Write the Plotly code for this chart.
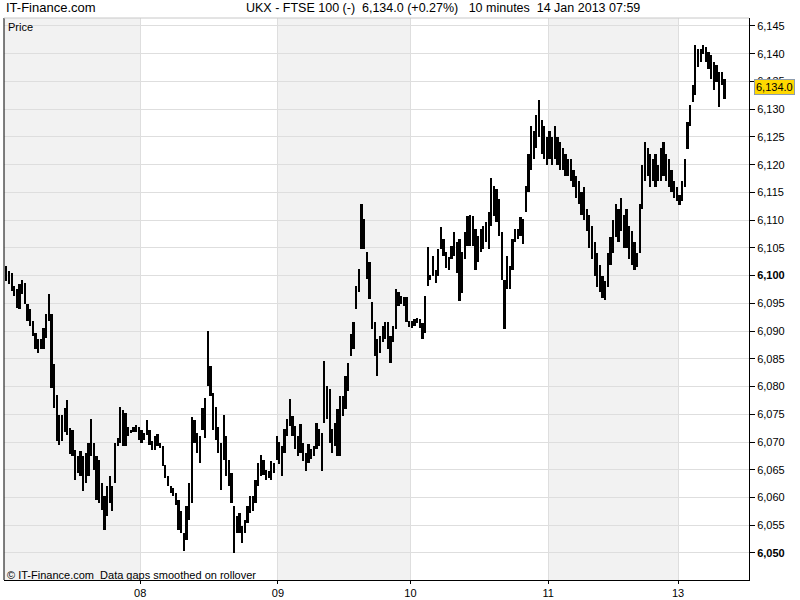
import plotly.graph_objects as go

# 10-minute bars, high / low per bar, one list per trading day
high_07 = [6101.7, 6100.8, 6100.5, 6098.1, 6097.5, 6098.4, 6099.3, 6098.7, 6094.8, 6093.9,
           6091.8, 6089.7, 6088.5, 6088.5, 6090.6, 6093.0, 6096.7, 6093.0, 6084.0, 6078.5,
           6074.9, 6074.9, 6076.1, 6077.6, 6072.5, 6072.2, 6068.6, 6067.4, 6068.3, 6067.4,
           6068.0, 6069.8, 6074.2, 6069.8, 6067.4, 6066.8, 6062.6, 6060.2, 6062.0, 6063.8,
           6062.0, 6069.8, 6070.7, 6076.4, 6075.8, 6075.2, 6072.8, 6072.2, 6072.8, 6073.1,
           6072.8]
low_07 = [6099.0, 6098.4, 6097.2, 6096.3, 6094.2, 6093.9, 6096.6, 6094.8, 6091.8, 6090.9,
          6089.1, 6086.7, 6086.1, 6086.7, 6086.7, 6088.8, 6091.8, 6079.7, 6076.1, 6070.1,
          6069.5, 6070.1, 6071.9, 6071.3, 6067.8, 6067.4, 6063.2, 6064.4, 6063.8, 6061.1,
          6062.6, 6063.8, 6067.4, 6065.0, 6059.6, 6059.0, 6057.8, 6054.2, 6056.6, 6059.0,
          6057.5, 6062.6, 6069.2, 6069.8, 6069.2, 6069.2, 6071.0, 6071.6, 6071.9, 6071.9,
          6070.4]

high_08 = [6072.2, 6071.6, 6074.0, 6072.2, 6070.1, 6071.0, 6071.5, 6069.8, 6069.2, 6065.9,
           6063.8, 6062.0, 6061.7, 6060.8, 6059.6, 6057.5, 6053.6, 6058.4, 6062.6, 6074.6,
           6074.0, 6071.6, 6071.0, 6076.1, 6078.0, 6090.0, 6083.7, 6078.9, 6076.4, 6072.8,
           6069.8, 6074.8, 6071.0, 6066.8, 6064.4, 6058.4, 6056.6, 6057.2, 6054.8, 6056.0,
           6058.4, 6060.2, 6060.2, 6063.2, 6066.2, 6067.7, 6066.8, 6065.0, 6064.7, 6066.5,
           6066.2, 6071.0]
low_08 = [6069.8, 6070.4, 6071.3, 6069.5, 6068.6, 6068.6, 6069.2, 6068.9, 6065.6, 6063.5,
          6062.0, 6060.8, 6060.2, 6058.7, 6054.2, 6053.6, 6050.4, 6052.4, 6056.0, 6059.0,
          6069.8, 6068.0, 6066.2, 6072.2, 6070.7, 6080.1, 6078.3, 6072.2, 6070.4, 6068.0,
          6061.4, 6066.8, 6063.8, 6062.0, 6059.0, 6050.0, 6053.6, 6053.6, 6051.8, 6053.6,
          6055.4, 6057.2, 6057.5, 6059.0, 6062.0, 6063.8, 6064.1, 6063.2, 6063.5, 6063.2,
          6064.4, 6066.8]

high_09 = [6070.0, 6069.3, 6072.3, 6074.1, 6077.7, 6074.7, 6072.9, 6071.1, 6073.2, 6069.9,
           6068.1, 6069.6, 6068.7, 6069.3, 6073.5, 6072.3, 6071.7, 6084.6, 6080.1, 6079.5,
           6072.3, 6073.5, 6075.9, 6078.3, 6078.3, 6081.9, 6084.3, 6089.5, 6091.6, 6098.2,
           6101.2, 6113.0, 6110.2, 6104.2, 6102.4, 6095.2, 6091.6, 6088.6, 6089.2, 6091.0,
           6091.6, 6091.6, 6089.2, 6091.0, 6097.6, 6097.0, 6096.4, 6096.1, 6096.1, 6091.9]
low_09 = [6066.0, 6063.9, 6068.1, 6071.1, 6072.9, 6071.1, 6068.7, 6067.5, 6068.1, 6066.6,
          6064.8, 6066.3, 6066.9, 6067.5, 6068.7, 6069.3, 6064.8, 6073.5, 6074.1, 6069.9,
          6068.1, 6069.3, 6067.5, 6067.5, 6074.7, 6075.9, 6079.2, 6085.5, 6086.7, 6094.0,
          6097.0, 6104.8, 6104.8, 6099.4, 6095.8, 6090.4, 6085.5, 6081.9, 6086.1, 6088.0,
          6088.6, 6086.7, 6084.3, 6088.0, 6090.4, 6094.6, 6094.9, 6094.6, 6091.6, 6090.8]

high_10 = [6091.8, 6092.1, 6092.4, 6092.1, 6091.5, 6096.3, 6105.1, 6100.2, 6103.6, 6101.1,
           6104.8, 6108.7, 6106.6, 6104.2, 6103.3, 6105.4, 6107.8, 6106.0, 6106.6, 6104.2,
           6107.8, 6110.8, 6110.9, 6110.8, 6108.4, 6107.2, 6108.4, 6109.0, 6109.6, 6111.4,
           6117.6, 6116.2, 6115.6, 6113.8, 6107.8, 6099.3, 6103.6, 6101.7, 6106.6, 6108.4,
           6108.4, 6110.5, 6110.2, 6116.2, 6122.0, 6127.0, 6126.0, 6129.0, 6131.6, 6128.0,
           6127.0, 6125.0]
low_10 = [6090.6, 6090.9, 6091.5, 6090.6, 6088.5, 6089.7, 6098.1, 6099.3, 6100.0, 6098.7,
          6100.0, 6104.8, 6103.6, 6101.4, 6101.1, 6103.0, 6103.6, 6100.5, 6095.4, 6096.9,
          6103.0, 6105.4, 6105.4, 6105.4, 6101.1, 6102.4, 6104.2, 6104.8, 6106.0, 6104.8,
          6109.0, 6110.8, 6109.6, 6107.2, 6099.3, 6090.3, 6097.5, 6097.5, 6101.1, 6106.0,
          6106.6, 6107.2, 6105.7, 6111.4, 6115.0, 6119.0, 6121.0, 6123.0, 6125.0, 6122.0,
          6121.0, 6120.0]

high_11 = [6126, 6125, 6127, 6125, 6124, 6123, 6122, 6121, 6121, 6119,
           6118, 6117, 6115, 6116, 6112, 6111, 6109, 6106, 6104, 6102,
           6100, 6099, 6104, 6107, 6110, 6113, 6112, 6114, 6111, 6112,
           6109, 6108, 6106, 6104, 6113, 6120, 6124, 6123, 6122, 6121,
           6122, 6120, 6123, 6124, 6122, 6121, 6119, 6117, 6116]
low_11 = [6121, 6120, 6121, 6120, 6119, 6119, 6118, 6118, 6117, 6116,
          6114, 6113, 6111, 6110, 6108, 6105, 6103, 6100, 6098, 6097,
          6096, 6095.6, 6098, 6102, 6104, 6107, 6106, 6108, 6105, 6105,
          6103, 6102, 6101, 6101.5, 6104, 6112, 6117, 6118, 6116, 6117,
          6116, 6117, 6117, 6118, 6117, 6116, 6115, 6114, 6113.5]

high_13 = [6114.5, 6117.0, 6121.0, 6127.7, 6130.7, 6134.3, 6141.5, 6140.9, 6140.9, 6141.5,
           6141.2, 6140.3, 6139.7, 6138.5, 6137.9, 6136.7, 6136.7, 6135.5]
low_13 = [6112.7, 6113.5, 6116.0, 6122.8, 6127.0, 6131.3, 6132.5, 6137.6, 6138.5, 6140.0,
          6138.5, 6137.3, 6135.5, 6133.4, 6134.9, 6130.4, 6134.3, 6131.9]

day_labels = ["08", "09", "10", "11", "13"]
y_ticks = [6050, 6055, 6060, 6065, 6070, 6075, 6080, 6085, 6090, 6095,
           6100, 6105, 6110, 6115, 6120, 6125, 6130, 6135, 6140, 6145]
last_price = 6134.0

days_high = [high_07, high_08, high_09, high_10, high_11, high_13]
days_low = [low_07, low_08, low_09, low_10, low_11, low_13]

highs = [v for d in days_high for v in d]
lows = [v for d in days_low for v in d]
idx = list(range(len(highs)))

# day boundaries (bar index where each new day starts)
starts = []
n = 0
for d in days_high[:-1]:
    n += len(d)
    starts.append(n)
bounds = [s - 0.5 for s in starts]

fig = go.Figure()
# high-low bars
fig.add_trace(go.Bar(x=idx, base=lows, y=[h - l for h, l in zip(highs, lows)],
                     width=0.85, marker=dict(color="black", line=dict(width=0)),
                     hoverinfo="skip"))

# alternating day shading
edges = [-1.0] + bounds + [290.0]
shapes = []
for k in range(0, len(edges) - 1, 2):
    shapes.append(dict(type="rect", xref="x", yref="paper", x0=edges[k], x1=edges[k + 1],
                       y0=0, y1=1, fillcolor="#f2f2f2", line=dict(width=0), layer="below"))
# left and top frame
shapes.append(dict(type="line", xref="paper", yref="paper", x0=0, x1=0, y0=0, y1=1,
                   line=dict(color="black", width=1)))
shapes.append(dict(type="line", xref="paper", yref="paper", x0=0, x1=1, y0=1, y1=1,
                   line=dict(color="#c8c8c8", width=1)))

tick_text = [("<b>{:,}</b>" if v in (6050, 6100) else "{:,}").format(v) for v in y_ticks]

label_font = dict(family="Liberation Sans, Arial, sans-serif", size=11, color="black")
title_font = dict(family="Liberation Sans, Arial, sans-serif", size=13, color="black")
sp = "\u00a0"

fig.update_layout(
    template="none",
    width=800, height=600,
    margin=dict(l=4, r=51, t=18, b=20, autoexpand=False),
    paper_bgcolor="white", plot_bgcolor="white",
    showlegend=False,
    bargap=0,
    shapes=shapes,
    xaxis=dict(range=[-0.88, 280.25], tickmode="array", tickvals=bounds, ticktext=day_labels,
               automargin=False,
               showgrid=True, gridcolor="#dedede", gridwidth=1, zeroline=False,
               showline=True, linecolor="black", linewidth=1,
               ticks="outside", ticklen=3, tickcolor="black", tickfont=label_font),
    yaxis=dict(range=[6045.13, 6146.44], side="right", tickmode="array",
               tickvals=y_ticks, ticktext=tick_text, automargin=False,
               showgrid=True, gridcolor="#dedede", gridwidth=1, zeroline=False,
               showline=True, linecolor="black", linewidth=1,
               ticks="outside", ticklen=5, tickcolor="black", tickfont=label_font),
    annotations=[
        dict(text="IT-Finance.com", xref="paper", yref="paper", x=0, y=1,
             xanchor="left", yanchor="bottom", xshift=0, yshift=1, showarrow=False, font=title_font),
        dict(text="UKX - FTSE 100 (-)" + sp * 2 + "6,134.0 (+0.27%)" + sp * 3 + "10 minutes" + sp * 2
             + "14 Jan 2013 07:59",
             xref="paper", yref="paper", x=0.589, y=1, xanchor="center", yanchor="bottom",
             yshift=1, showarrow=False,
             font=dict(family="Liberation Sans, Arial, sans-serif", size=12.5, color="black")),
        dict(text="Price", xref="paper", yref="paper", x=0, y=1, xanchor="left", yanchor="top",
             xshift=2, yshift=-1, showarrow=False, font=label_font),
        dict(text="© IT-Finance.com" + sp * 2 + "Data gaps smoothed on rollover",
             xref="paper", yref="paper", x=0, y=0, xanchor="left", yanchor="bottom",
             xshift=1, yshift=-3, showarrow=False,
             font=dict(family="Liberation Sans, Arial, sans-serif", size=11, color="black")),
        dict(text="{:,.1f}".format(last_price), xref="paper", yref="y", x=1, y=last_price,
             xanchor="left", yanchor="middle", xshift=5, showarrow=False,
             bgcolor="#ffd800", bordercolor="#8d9cae", borderwidth=1, borderpad=1,
             font=label_font),
    ],
)

# page has a default 8px body margin; drop it so the figure sits at the window corner
fig.write_html("out.html", config={"displayModeBar": False},
               post_script="document.body.style.margin='0';")
